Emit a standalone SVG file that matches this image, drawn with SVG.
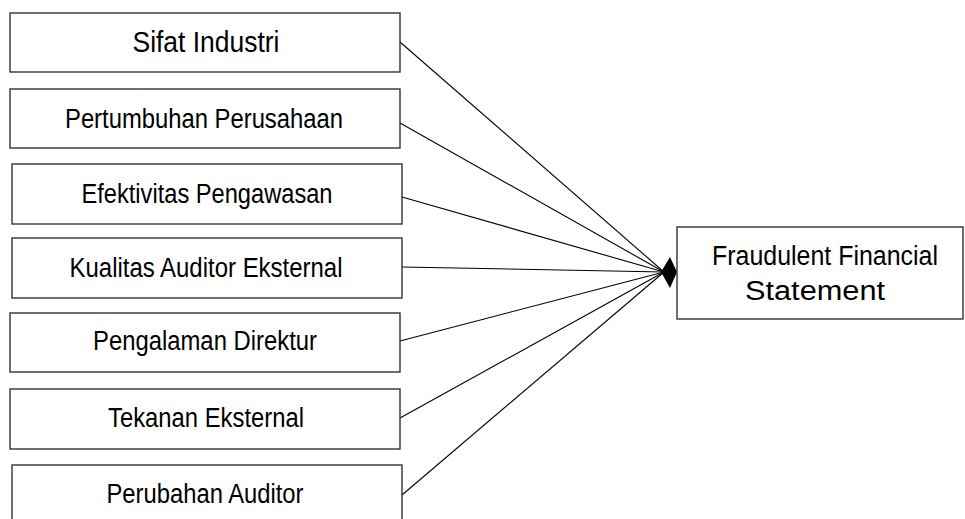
<svg xmlns="http://www.w3.org/2000/svg" width="965" height="519" viewBox="0 0 965 519">
<style>
.box{fill:#fff;stroke:#333;stroke-width:1.4}
.t{font-family:"Liberation Sans",Arimo,Arial,Helvetica,sans-serif;font-size:27px;fill:#000;text-anchor:middle}
.c{stroke:#000;stroke-width:1.1;fill:none}
</style>
<rect width="965" height="519" fill="#fff"/>
<g id="connectors">
<line class="c" x1="400" y1="42" x2="664" y2="272"/>
<line class="c" x1="400" y1="123" x2="664" y2="272"/>
<line class="c" x1="402" y1="197" x2="664" y2="272"/>
<line class="c" x1="402" y1="267" x2="664" y2="272"/>
<line class="c" x1="400" y1="341" x2="664" y2="272"/>
<line class="c" x1="400" y1="418" x2="664" y2="272"/>
<line class="c" x1="402" y1="495" x2="664" y2="272"/>
<polygon points="677,272 670,257 661,272 670,288" fill="#000"/>
</g>
<g id="n1"><rect class="box" x="10" y="13" width="390" height="59"/><text class="t" x="206" y="52" style="font-size:30px" textLength="147" lengthAdjust="spacingAndGlyphs">Sifat Industri</text></g>
<g id="n2"><rect class="box" x="10" y="89" width="390" height="59"/><text class="t" x="204" y="128" textLength="278" lengthAdjust="spacingAndGlyphs">Pertumbuhan Perusahaan</text></g>
<g id="n3"><rect class="box" x="12" y="164" width="390" height="60"/><text class="t" x="207" y="203" textLength="251" lengthAdjust="spacingAndGlyphs">Efektivitas Pengawasan</text></g>
<g id="n4"><rect class="box" x="12" y="238" width="390" height="60"/><text class="t" x="206" y="277" textLength="273" lengthAdjust="spacingAndGlyphs">Kualitas Auditor Eksternal</text></g>
<g id="n5"><rect class="box" x="10" y="313" width="390" height="59"/><text class="t" x="205" y="350" textLength="224" lengthAdjust="spacingAndGlyphs">Pengalaman Direktur</text></g>
<g id="n6"><rect class="box" x="10" y="389" width="390" height="60"/><text class="t" x="206" y="427" textLength="196" lengthAdjust="spacingAndGlyphs">Tekanan Eksternal</text></g>
<g id="n7"><rect class="box" x="12" y="465" width="390" height="60"/><text class="t" x="205" y="503" textLength="197" lengthAdjust="spacingAndGlyphs">Perubahan Auditor</text></g>
<g id="n8"><rect class="box" x="677" y="227" width="286" height="92"/><text class="t" x="825" y="265" textLength="226" lengthAdjust="spacingAndGlyphs">Fraudulent Financial</text><text class="t" x="815" y="300" textLength="140" lengthAdjust="spacingAndGlyphs">Statement</text></g>
</svg>
